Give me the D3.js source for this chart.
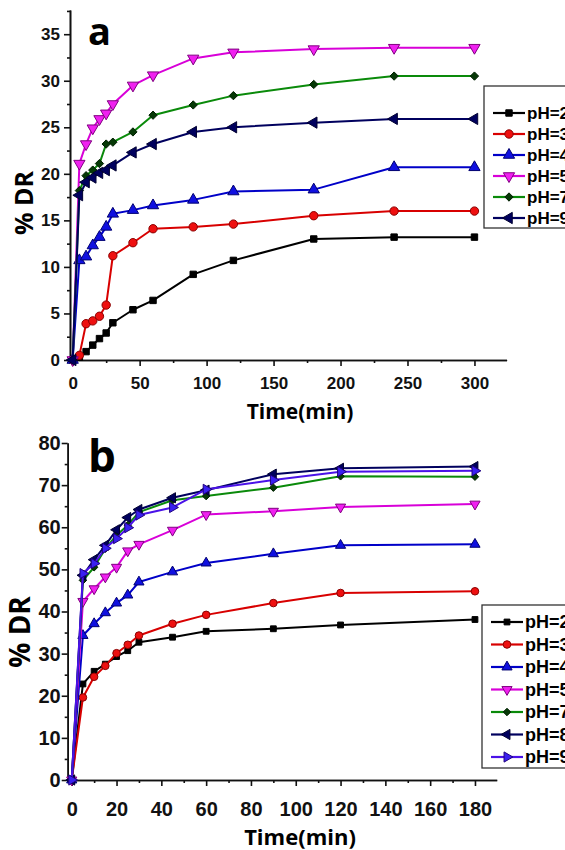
<!DOCTYPE html>
<html>
<head>
<meta charset="utf-8">
<script src="https://cdn.jsdelivr.net/npm/d3@7"></script>
<style>
  body { margin: 0; background: #fff; }
  svg { display: block; font-family: "Open Sans", "DejaVu Sans", sans-serif; }
  .axis path, .axis line { stroke: #111; stroke-width: 1.6; }
  .axis text { font-weight: bold; fill: #111; }
</style>
</head>
<body>
<div id="holder"></div>
<script>
// ---- panel a data ----
var timeA = [0, 5, 10, 15, 20, 25, 30, 45, 60, 90, 120, 180, 240, 300];
var pH2A = [0, 0.3, 0.9, 1.6, 2.3, 2.9, 4.0, 5.4, 6.4, 9.2, 10.7, 13.0, 13.2, 13.2];
var pH3A = [0, 0.5, 3.9, 4.2, 4.7, 5.9, 11.2, 12.6, 14.1, 14.3, 14.6, 15.5, 16.0, 16.0];
var pH4A = [0, 10.7, 11.1, 12.3, 13.2, 14.3, 15.7, 16.1, 16.6, 17.2, 18.1, 18.3, 20.7, 20.7];
var pH5A = [0, 21.1, 23.2, 24.9, 25.9, 26.5, 27.5, 29.5, 30.6, 32.4, 33.05, 33.4, 33.55, 33.55];
var pH7A = [0, 18.2, 19.8, 20.4, 21.1, 23.2, 23.4, 24.5, 26.3, 27.4, 28.4, 29.6, 30.5, 30.5];
var pH9A = [0, 17.7, 19.1, 19.6, 20.1, 20.4, 20.9, 22.3, 23.2, 24.5, 25.0, 25.5, 25.9, 25.9];
var labelsA = ["pH=2", "pH=3", "pH=4", "pH=5", "pH=7", "pH=9"];
var xTicksA = [0, 50, 100, 150, 200, 250, 300];
var yTicksA = [0, 5, 10, 15, 20, 25, 30, 35];

// ---- panel b data ----
var timeB = [0, 5, 10, 15, 20, 25, 30, 45, 60, 90, 120, 180];
var pH2B = [0, 22.8, 25.8, 27.5, 29.3, 30.7, 32.7, 33.9, 35.3, 35.9, 36.8, 38.1];
var pH3B = [0, 19.6, 24.5, 27.1, 30.1, 32.1, 34.3, 37.1, 39.2, 42.0, 44.4, 44.8];
var pH4B = [0, 34.3, 37.1, 39.7, 42.0, 43.9, 47.0, 49.4, 51.5, 53.7, 55.7, 55.95];
var pH5B = [0, 42.4, 45.4, 48.2, 50.5, 54.4, 55.95, 59.3, 63.0, 63.8, 64.8, 65.5];
var pH7B = [0, 47.4, 50.5, 54.9, 58.1, 60.5, 63.6, 66.4, 67.4, 69.4, 72.1, 72.0];
var pH8B = [0, 48.6, 52.3, 55.7, 59.4, 62.3, 64.2, 67.0, 68.8, 72.6, 74.0, 74.4];
var pH9B = [0, 49.0, 51.4, 55.0, 57.3, 59.9, 62.9, 64.7, 69.0, 71.2, 73.2, 73.4];
var labelsB = ["pH=2", "pH=3", "pH=4", "pH=5", "pH=7", "pH=8", "pH=9"];
var xTicksB = [0, 20, 40, 60, 80, 100, 120, 140, 160, 180];
var yTicksB = [0, 10, 20, 30, 40, 50, 60, 70, 80];

// marker styles per pH
var styles = {
  "pH=2": {line: "#000000", fill: "#000000", stroke: "#000000", shape: "square"},
  "pH=3": {line: "#d80000", fill: "#ee1010", stroke: "#8a0000", shape: "circle"},
  "pH=4": {line: "#0000c8", fill: "#1010e0", stroke: "#000070", shape: "up"},
  "pH=5": {line: "#d800d8", fill: "#f020f0", stroke: "#800080", shape: "down"},
  "pH=7": {line: "#0a8a0a", fill: "#063806", stroke: "#002000", shape: "diamond"},
  "pH=8": {line: "#00005e", fill: "#00005e", stroke: "#000030", shape: "left"},
  "pH=9": {line: "#00005e", fill: "#00005e", stroke: "#000030", shape: "left"}
};
var styleB9 = {line: "#4a12e8", fill: "#3a20f0", stroke: "#200080", shape: "right"};

var svg = d3.select("#holder")
            .append("svg")
            .attr("width", 565)
            .attr("height", 850);

function markerPath(shape, size) {
  var type = d3.symbolTriangle, rot = 0;
  if (shape == "square") type = d3.symbolSquare;
  if (shape == "circle") type = d3.symbolCircle;
  if (shape == "diamond") type = d3.symbolDiamond2;
  if (shape == "down") rot = 180;
  if (shape == "left") rot = -90;
  if (shape == "right") rot = 90;
  var sz = size;
  if (shape == "square") sz = size * 0.75;
  if (shape == "diamond") sz = size * 0.8;
  return {d: d3.symbol().type(type).size(sz)(), rot: rot};
}

function drawPanel(p) {
  var g = svg.append("g");

  // x axis with major + minor ticks
  g.append("g").attr("class", "axis")
    .attr("transform", "translate(0," + p.y.range()[0] + ")")
    .call(d3.axisBottom(p.x).tickValues(p.minorX).tickSize(3).tickSizeOuter(0).tickFormat(""));
  g.append("g").attr("class", "axis")
    .attr("transform", "translate(0," + p.y.range()[0] + ")")
    .call(d3.axisBottom(p.x).tickValues(p.xTicks).tickSize(6).tickSizeOuter(0).tickPadding(p.xPad))
    .selectAll("text").style("font-size", p.tickFont + "px");

  // y axis
  g.append("g").attr("class", "axis")
    .attr("transform", "translate(" + p.x.range()[0] + ",0)")
    .call(d3.axisLeft(p.y).tickValues(p.minorY).tickSize(3).tickSizeOuter(0).tickFormat(""));
  g.append("g").attr("class", "axis")
    .attr("transform", "translate(" + p.x.range()[0] + ",0)")
    .call(d3.axisLeft(p.y).tickValues(p.yTicks).tickSize(6).tickSizeOuter(0).tickPadding(p.yPad))
    .selectAll("text").style("font-size", p.tickFont + "px");

  // axis titles
  g.append("text")
    .attr("x", 300).attr("y", p.titleY)
    .attr("text-anchor", "middle")
    .style("font-weight", "bold").style("font-size", p.titleFont + "px")
    .text("Time(min)");
  g.append("text")
    .attr("transform", "translate(" + p.yLabX + "," + p.yLabY + ") rotate(-90)")
    .attr("text-anchor", "middle")
    .attr("dominant-baseline", "central")
    .style("font-weight", "bold").style("font-size", p.yLabFont + "px")
    .text("% DR");

  // panel letter
  g.append("text")
    .attr("x", p.letterX).attr("y", p.letterY)
    .style("font-weight", "bold").style("font-size", p.letterFont + "px")
    .text(p.letter);

  var line = d3.line()
    .x(function(d) { return p.x(d[0]); })
    .y(function(d) { return p.y(d[1]); });

  p.series.forEach(function(s) {
    var pts = p.time.map(function(t, i) { return [t, s.values[i]]; });
    g.append("path")
      .datum(pts)
      .attr("d", line)
      .attr("fill", "none")
      .attr("stroke", s.style.line)
      .attr("stroke-width", 2)
      .attr("stroke-linejoin", "round");
    var m = markerPath(s.style.shape, p.markSize);
    g.selectAll(null)
      .data(pts)
      .enter()
      .append("path")
      .attr("d", m.d)
      .attr("transform", function(d) {
        return "translate(" + p.x(d[0]) + "," + p.y(d[1]) + ") rotate(" + m.rot + ")";
      })
      .attr("fill", s.style.fill)
      .attr("stroke", s.style.stroke)
      .attr("stroke-width", 1);
  });

  // legend (runs off the right edge, as in the original figure)
  var lg = g.append("g");
  lg.append("rect")
    .attr("x", p.legX).attr("y", p.legY)
    .attr("width", 120).attr("height", p.legH)
    .attr("fill", "#fff")
    .attr("stroke", "#333").attr("stroke-width", 1.3);
  p.series.forEach(function(s, i) {
    var yy = p.legY + p.legFirst + i * p.legStep;
    lg.append("line")
      .attr("x1", p.legX + 9).attr("x2", p.legX + 41)
      .attr("y1", yy).attr("y2", yy)
      .attr("stroke", s.style.line).attr("stroke-width", 2.2);
    var m = markerPath(s.style.shape, p.markSize);
    lg.append("path")
      .attr("d", m.d)
      .attr("transform", "translate(" + (p.legX + 25) + "," + yy + ") rotate(" + m.rot + ")")
      .attr("fill", s.style.fill)
      .attr("stroke", s.style.stroke);
    lg.append("text")
      .attr("x", p.legX + 43).attr("y", yy)
      .attr("dominant-baseline", "central")
      .style("font-family", "'Liberation Sans', Arial, sans-serif")
      .style("font-weight", "bold").style("font-size", p.legFont + "px")
      .text(s.name);
  });
}

// panel a
var seriesA = [pH2A, pH3A, pH4A, pH5A, pH7A, pH9A].map(function(v, i) {
  return {name: labelsA[i], values: v, style: styles[labelsA[i]]};
});
drawPanel({
  x: d3.scaleLinear().domain([-2, 324]).range([70, 506.6]),
  y: d3.scaleLinear().domain([0, 37.6]).range([360, 10]),
  time: timeA, series: seriesA,
  xTicks: xTicksA, yTicks: yTicksA,
  minorX: d3.range(25, 325, 50), minorY: d3.range(2.5, 37.6, 5),
  tickFont: 17, xPad: 11, yPad: 4,
  titleY: 419, titleFont: 21,
  yLabX: 23, yLabY: 203, yLabFont: 25,
  letter: "a", letterX: 88, letterY: 45, letterFont: 38,
  markSize: 55,
  legX: 484, legY: 86, legH: 142, legFirst: 27, legStep: 21, legFont: 17
});

// panel b
var seriesB = [pH2B, pH3B, pH4B, pH5B, pH7B, pH8B, pH9B].map(function(v, i) {
  var st = labelsB[i] == "pH=9" ? styleB9 : styles[labelsB[i]];
  return {name: labelsB[i], values: v, style: st};
});
drawPanel({
  x: d3.scaleLinear().domain([-1.8, 189.7]).range([67.7, 496.7]),
  y: d3.scaleLinear().domain([0, 80]).range([780, 443]),
  time: timeB, series: seriesB,
  xTicks: xTicksB, yTicks: yTicksB,
  minorX: d3.range(10, 190, 20), minorY: d3.range(5, 80, 10),
  tickFont: 20, xPad: 16, yPad: 1,
  titleY: 845, titleFont: 22,
  yLabX: 19, yLabY: 632, yLabFont: 28,
  letter: "b", letterX: 88, letterY: 472, letterFont: 44,
  markSize: 45,
  legX: 482, legY: 605, legH: 163, legFirst: 17, legStep: 22.5, legFont: 18
});
</script>
</body>
</html>
